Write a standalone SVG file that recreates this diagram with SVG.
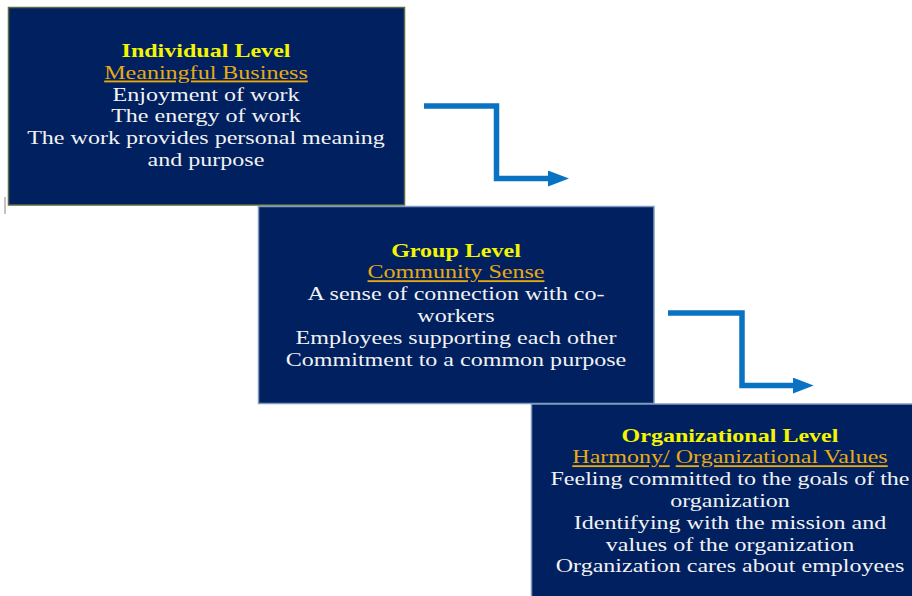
<svg xmlns="http://www.w3.org/2000/svg" width="912" height="596" viewBox="0 0 912 596">
<style>
.box{fill:#002060;stroke-width:1.5}
.t{font-family:"Liberation Serif","Times New Roman",serif;font-size:18.5px;text-anchor:middle}
.h{fill:#f5f500;font-weight:bold}
.s{fill:#e8aa10;text-decoration:underline}
.b{fill:#f2f2f2}
.conn{fill:none;stroke:#0a72c2;stroke-width:5.5;stroke-linejoin:miter}
</style>
<defs>
<marker id="ah" viewBox="0 0 21 16" markerWidth="21" markerHeight="16" refX="2" refY="8" markerUnits="userSpaceOnUse" orient="auto">
<path d="M0,0 L21,8 L0,16 z" fill="#0a72c2"/>
</marker>
</defs>
<rect width="912" height="596" fill="#ffffff"/>
<line x1="5" y1="197" x2="5" y2="214" stroke="#b0b0b0" stroke-width="1.5"/>
<g id="connectors">
<path class="conn" d="M424,106 H496.5 V178.5 H550" marker-end="url(#ah)"/>
<path class="conn" d="M668,313 H742 V385.5 H794.7" marker-end="url(#ah)"/>
</g>
<g id="individual">
<rect class="box" x="8.5" y="7.5" width="396" height="197.5" stroke="#5b6b3c"/>
<g transform="translate(206,0) scale(1.3,1)" class="t">
<text x="0" y="57" class="t h">Individual Level</text>
<text x="0" y="78.8" class="t s">Meaningful Business</text>
<text x="0" y="100.6" class="t b">Enjoyment of work</text>
<text x="0" y="122.4" class="t b">The energy of work</text>
<text x="0" y="144.2" class="t b">The work provides personal meaning</text>
<text x="0" y="166" class="t b">and purpose</text>
</g>
</g>
<g id="group">
<rect class="box" x="258.5" y="206.5" width="395.5" height="197" stroke="#7f9cc0"/>
<g transform="translate(456,0) scale(1.3,1)">
<text x="0" y="256.7" class="t h">Group Level</text>
<text x="0" y="278.5" class="t s">Community Sense</text>
<text x="0" y="300.3" class="t b">A sense of connection with co-</text>
<text x="0" y="322.1" class="t b">workers</text>
<text x="0" y="343.9" class="t b">Employees supporting each other</text>
<text x="0" y="365.7" class="t b">Commitment to a common purpose</text>
</g>
</g>
<g id="organizational">
<rect class="box" x="531.5" y="404" width="400" height="200" stroke="#7f9cc0"/>
<g transform="translate(730,0) scale(1.3,1)">
<text x="0" y="441.7" class="t h">Organizational Level</text>
<text x="0" y="463.5" class="t" fill="#e8aa10"><tspan class="s">Harmony/</tspan> <tspan class="s">Organizational Values</tspan></text>
<text x="0" y="485.3" class="t b">Feeling committed to the goals of the</text>
<text x="0" y="507.1" class="t b">organization</text>
<text x="0" y="528.9" class="t b">Identifying with the mission and</text>
<text x="0" y="550.7" class="t b">values of the organization</text>
<text x="0" y="572.5" class="t b">Organization cares about employees</text>
</g>
</g>
</svg>
